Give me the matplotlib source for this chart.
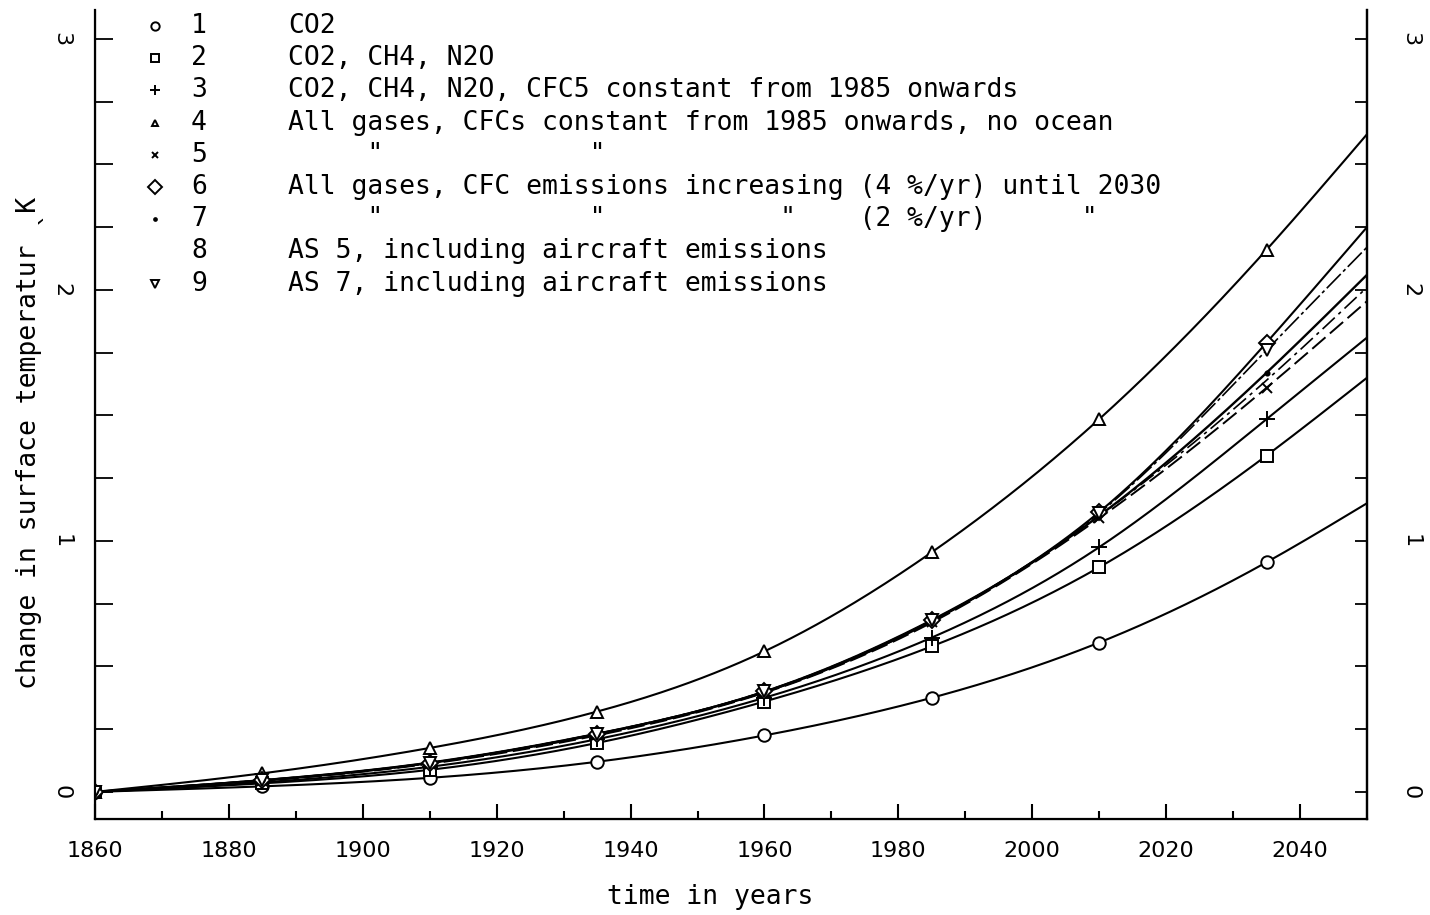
import numpy as np
import matplotlib
matplotlib.use("Agg")
import matplotlib.pyplot as plt
from matplotlib.lines import Line2D

# Model years (symbols every 25 years, curves run on to 2050)
years = [1860, 1885, 1910, 1935, 1960, 1985, 2010, 2035, 2050]
marker_years = years[:-1]

# Change in surface temperature (K) for each scenario
co2 = [0.0, 0.022, 0.056, 0.12, 0.225, 0.375, 0.595, 0.915, 1.15]
co2_ch4_n2o = [0.0, 0.034, 0.088, 0.195, 0.36, 0.58, 0.895, 1.34, 1.65]
cfc_const_1985 = [0.0, 0.038, 0.10, 0.21, 0.375, 0.615, 0.975, 1.485, 1.81]
all_gases_no_ocean = [0.0, 0.074, 0.175, 0.32, 0.56, 0.955, 1.485, 2.16, 2.62]
all_gases_const = [0.0, 0.044, 0.112, 0.225, 0.395, 0.675, 1.09, 1.61, 1.955]
cfc_4pct = [0.0, 0.047, 0.117, 0.232, 0.40, 0.685, 1.115, 1.79, 2.25]
cfc_2pct = [0.0, 0.046, 0.115, 0.23, 0.398, 0.68, 1.10, 1.67, 2.06]
as5_aircraft = [0.0, 0.045, 0.114, 0.228, 0.397, 0.68, 1.10, 1.64, 2.01]
as7_aircraft = [0.0, 0.047, 0.116, 0.232, 0.40, 0.683, 1.11, 1.76, 2.17]

legend_numbers = ["1", "2", "3", "4", "5", "6", "7", "8", "9"]
legend_texts = [
    "CO2",
    "CO2, CH4, N2O",
    "CO2, CH4, N2O, CFC5 constant from 1985 onwards",
    "All gases, CFCs constant from 1985 onwards, no ocean",
    '     "             "',
    "All gases, CFC emissions increasing (4 %/yr) until 2030",
    '     "             "           "    (2 %/yr)      "',
    "AS 5, including aircraft emissions",
    "AS 7, including aircraft emissions",
]

x_ticks = list(range(1860, 2041, 20))
x_minor = list(range(1870, 2041, 20))
y_ticks = [0, 1, 2, 3]
y_minor = [v for v in np.arange(0.25, 3.01, 0.25) if v % 1 != 0]

MONO = ["DejaVu Sans Mono", "DejaVu Sans"]


def natural_spline(x, y, xs):
    """Smooth natural cubic spline through the given points."""
    x = np.asarray(x, float)
    y = np.asarray(y, float)
    n = len(x)
    h = np.diff(x)
    A = np.zeros((n, n))
    r = np.zeros(n)
    A[0, 0] = A[-1, -1] = 1.0
    for i in range(1, n - 1):
        A[i, i - 1] = h[i - 1]
        A[i, i] = 2 * (h[i - 1] + h[i])
        A[i, i + 1] = h[i]
        r[i] = 3 * ((y[i + 1] - y[i]) / h[i] - (y[i] - y[i - 1]) / h[i - 1])
    c = np.linalg.solve(A, r)
    b = (y[1:] - y[:-1]) / h - h * (2 * c[:-1] + c[1:]) / 3
    d = (c[1:] - c[:-1]) / (3 * h)
    idx = np.clip(np.searchsorted(x, xs) - 1, 0, n - 2)
    dx = xs - x[idx]
    return y[idx] + b[idx] * dx + c[idx] * dx ** 2 + d[idx] * dx ** 3


W, H = 1430, 915
fig = plt.figure(figsize=(W / 100, H / 100), dpi=100)
ax = fig.add_axes([95 / W, 1 - 819 / H, (1367 - 95) / W, (819 - 10) / H])
ax.set_xlim(1860, 2050)
ax.set_ylim(-0.108, 3.115)

# (values, marker, marker size, line style, line width)
series = [
    (co2, "o", 9, "-", 1.5),
    (co2_ch4_n2o, "s", 9, "-", 1.5),
    (cfc_const_1985, "+", 11, "-", 1.5),
    (all_gases_no_ocean, "^", 8, "-", 1.5),
    (all_gases_const, "x", 7, (0, (9, 3)), 1.4),
    (cfc_4pct, "D", 8, "-", 1.5),
    (cfc_2pct, ".", 6, "-", 1.7),
    (as5_aircraft, None, 0, (0, (10, 3, 2, 3)), 1.2),
    (as7_aircraft, "v", 8, (0, (12, 2, 2, 2)), 1.2),
]

xs = np.linspace(1860, 2050, 500)
for vals, marker, ms, ls, lw in series:
    ax.plot(xs, natural_spline(years, vals, xs), color="black", lw=lw, ls=ls,
            zorder=2)
for vals, marker, ms, ls, lw in series:
    if marker is None:
        continue
    face = "black" if marker == "." else "white"
    ax.plot(marker_years, vals[:-1], ls="none", marker=marker, ms=ms,
            mfc=face, mec="black", mew=1.4, zorder=3)

# Axes frame and ticks
ax.spines["top"].set_visible(False)
for side in ("left", "bottom", "right"):
    ax.spines[side].set_linewidth(1.6)

ax.set_xticks(x_ticks)
ax.set_xticks(x_minor, minor=True)
ax.set_xticklabels([str(v) for v in x_ticks], fontsize=16)
ax.tick_params(axis="x", which="major", direction="in", length=11, width=1.5,
               pad=16)
ax.tick_params(axis="x", which="minor", direction="in", length=6, width=1.5)

ax.set_yticks(y_ticks)
ax.set_yticks(y_minor, minor=True)
ax.set_yticklabels([str(v) for v in y_ticks], fontsize=16, rotation=-90,
                   va="center")
ax.tick_params(axis="y", which="both", direction="in", length=13, width=1.3,
               pad=17)

ax_r = ax.twinx()
ax_r.set_ylim(ax.get_ylim())
ax_r.spines["top"].set_visible(False)
ax_r.spines["right"].set_linewidth(1.6)
ax_r.set_yticks(y_ticks)
ax_r.set_yticks(y_minor, minor=True)
ax_r.set_yticklabels([str(v) for v in y_ticks], fontsize=16, rotation=-90,
                     va="center")
ax_r.tick_params(axis="y", which="both", direction="in", length=9, width=1.3,
                 pad=24)

# Key in the upper left
row_y0, row_dy = 26, 32.2
key_markers = ["o", "s", "+", "^", "x", "D", ".", None, "v"]
key_sizes = [6, 6, 7, 5, 5, 7, 4, 0, 6]
for i, (num, txt) in enumerate(zip(legend_numbers, legend_texts)):
    fy = 1 - (row_y0 + i * row_dy) / H
    m = key_markers[i]
    if m is not None:
        face = "black" if m == "." else "white"
        fig.add_artist(Line2D([155 / W], [fy], marker=m, ms=key_sizes[i],
                              mfc=face, mec="black", mew=1.4, ls="none",
                              transform=fig.transFigure))
    fig.text(191 / W, fy, num, family=MONO, fontsize=19, va="center",
             ha="left")
    fig.text(288 / W, fy, txt, family=MONO, fontsize=19, va="center",
             ha="left")

fig.text(710 / W, 1 - 897 / H, "time in years", family=MONO, fontsize=19,
         ha="center", va="center")
fig.text(30 / W, 1 - 443 / H, "change in surface temperatur ˎK", family=MONO,
         fontsize=19, rotation=90, ha="center", va="center")

fig.savefig("out.png", dpi=100, facecolor="white")
